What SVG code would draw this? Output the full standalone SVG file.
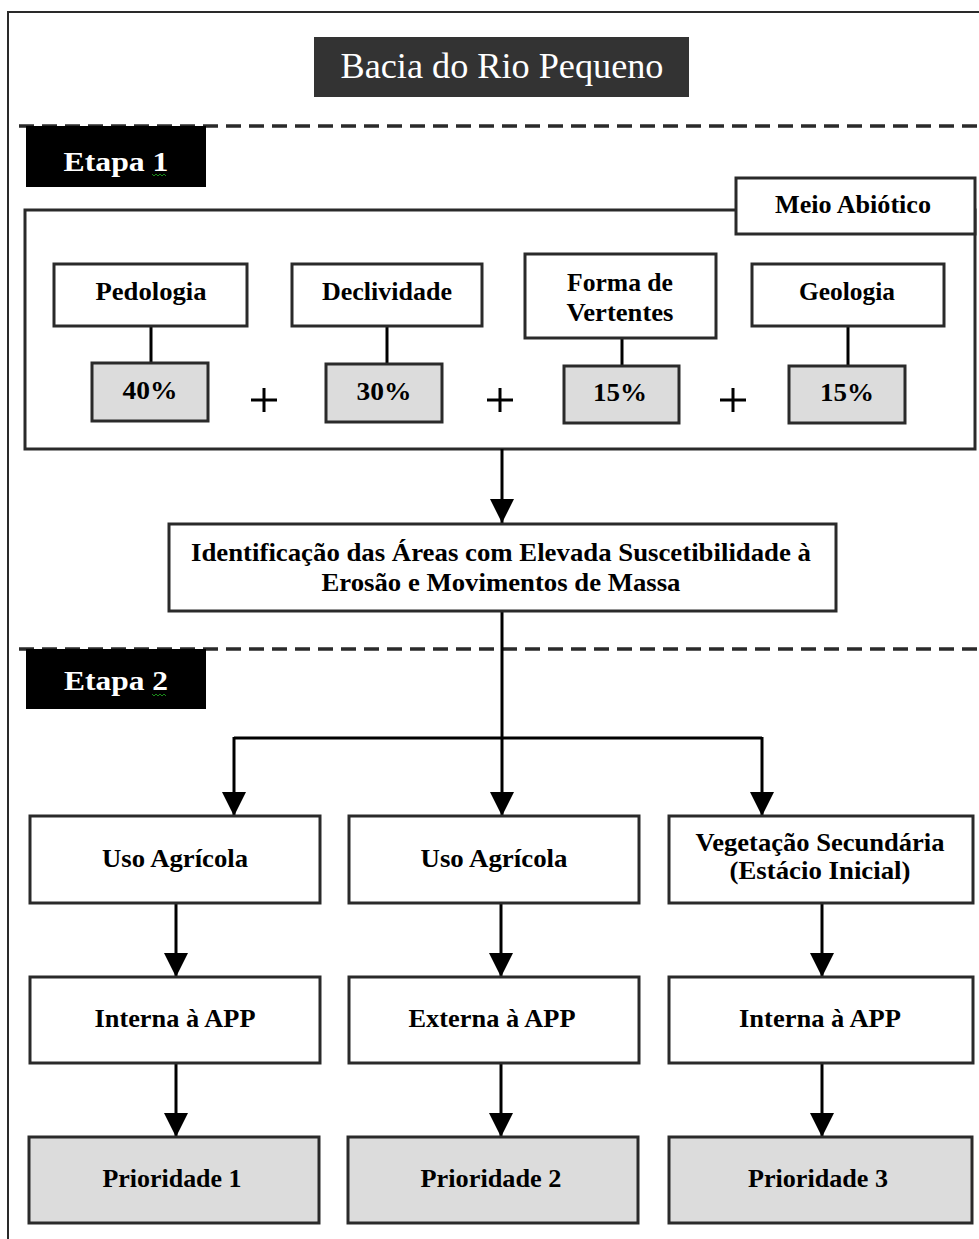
<svg xmlns="http://www.w3.org/2000/svg" width="979" height="1239" viewBox="0 0 979 1239">
<style>
.bx{fill:#fff;stroke:#2a2a2a;stroke-width:3}
.gr{fill:#dcdcdc;stroke:#2a2a2a;stroke-width:3}
.t{font-family:"Liberation Serif","Times New Roman",serif;font-weight:bold;font-size:25px;fill:#000;text-anchor:middle}
.w{font-family:"Liberation Serif","Times New Roman",serif;fill:#fff;text-anchor:middle}
.ln{stroke:#000;stroke-width:3;fill:none}
.ds{stroke:#2a2a2a;stroke-width:3.5;stroke-dasharray:15 8;fill:none}
.sq{stroke:#1a8a1a;stroke-width:1;fill:none}
</style>
<defs>
<marker id="ah" viewBox="0 0 24 24" refX="24" refY="12" markerWidth="24" markerHeight="24" markerUnits="userSpaceOnUse" orient="auto">
<path d="M0,0 L24,12 L0,24 Z" fill="#000"/>
</marker>
</defs>
<rect width="979" height="1239" fill="#fff"/>
<g id="frame">
<path d="M8,1239 V12 H979" fill="none" stroke="#2a2a2a" stroke-width="2"/>
<line class="ds" x1="19" y1="126" x2="979" y2="126"/>
<line class="ds" x1="19" y1="649" x2="979" y2="649"/>
</g>
<g id="title">
<rect x="314" y="37" width="375" height="60" fill="#333"/>
<text class="w" x="502" y="78" font-size="36" textLength="323" lengthAdjust="spacingAndGlyphs">Bacia do Rio Pequeno</text>
</g>
<g id="etapa1">
<rect x="26" y="126" width="180" height="61" fill="#000"/>
<text class="w" x="116" y="171" font-size="28" font-weight="bold" textLength="105" lengthAdjust="spacingAndGlyphs">Etapa 1</text>
<path class="sq" d="M152,174 l2,2 l2,-2 l2,2 l2,-2 l2,2 l2,-2 l2,2"/>
</g>
<g id="meio-abiotico-area">
<rect class="bx" x="25" y="210" width="950" height="239"/>
</g>
<g id="meio-abiotico">
<rect class="bx" x="736" y="178" width="239" height="56"/>
<text class="t" x="853" y="213" textLength="156" lengthAdjust="spacingAndGlyphs">Meio Abiótico</text>
</g>
<g id="connectors">
<line class="ln" x1="151" y1="326" x2="151" y2="363"/>
<line class="ln" x1="387" y1="326" x2="387" y2="364"/>
<line class="ln" x1="622" y1="338" x2="622" y2="366"/>
<line class="ln" x1="848" y1="326" x2="848" y2="366"/>
<line class="ln" x1="502" y1="449" x2="502" y2="523" marker-end="url(#ah)"/>
<line class="ln" x1="502" y1="611" x2="502" y2="738"/>
<line class="ln" x1="234" y1="738" x2="762" y2="738"/>
<line class="ln" x1="234" y1="737" x2="234" y2="816" marker-end="url(#ah)"/>
<line class="ln" x1="502" y1="738" x2="502" y2="816" marker-end="url(#ah)"/>
<line class="ln" x1="762" y1="737" x2="762" y2="816" marker-end="url(#ah)"/>
<line class="ln" x1="176" y1="903" x2="176" y2="977" marker-end="url(#ah)"/>
<line class="ln" x1="501" y1="903" x2="501" y2="977" marker-end="url(#ah)"/>
<line class="ln" x1="822" y1="903" x2="822" y2="977" marker-end="url(#ah)"/>
<line class="ln" x1="176" y1="1063" x2="176" y2="1137" marker-end="url(#ah)"/>
<line class="ln" x1="501" y1="1063" x2="501" y2="1137" marker-end="url(#ah)"/>
<line class="ln" x1="822" y1="1063" x2="822" y2="1137" marker-end="url(#ah)"/>
</g>
<g id="plus-signs" stroke="#000" stroke-width="3">
<path d="M251,400 h26 M264,388 v24"/>
<path d="M487,400 h26 M500,388 v24"/>
<path d="M720,400 h26 M733,388 v24"/>
</g>
<g id="pedologia">
<rect class="bx" x="54" y="264" width="193" height="62"/>
<text class="t" x="151" y="300" textLength="111" lengthAdjust="spacingAndGlyphs">Pedologia</text>
</g>
<g id="declividade">
<rect class="bx" x="292" y="264" width="190" height="62"/>
<text class="t" x="387" y="300" textLength="130" lengthAdjust="spacingAndGlyphs">Declividade</text>
</g>
<g id="forma-vertentes">
<rect class="bx" x="525" y="254" width="191" height="84"/>
<text class="t" x="620" y="291" textLength="106" lengthAdjust="spacingAndGlyphs">Forma de</text>
<text class="t" x="620" y="321" textLength="107" lengthAdjust="spacingAndGlyphs">Vertentes</text>
</g>
<g id="geologia">
<rect class="bx" x="752" y="264" width="192" height="62"/>
<text class="t" x="847" y="300" textLength="96" lengthAdjust="spacingAndGlyphs">Geologia</text>
</g>
<g id="p40">
<rect class="gr" x="92" y="363" width="116" height="58"/>
<text class="t" x="150" y="399" textLength="55" lengthAdjust="spacingAndGlyphs">40%</text>
</g>
<g id="p30">
<rect class="gr" x="326" y="364" width="116" height="58"/>
<text class="t" x="384" y="400" textLength="55" lengthAdjust="spacingAndGlyphs">30%</text>
</g>
<g id="p15a">
<rect class="gr" x="564" y="366" width="115" height="57"/>
<text class="t" x="620" y="401" textLength="54" lengthAdjust="spacingAndGlyphs">15%</text>
</g>
<g id="p15b">
<rect class="gr" x="789" y="366" width="116" height="57"/>
<text class="t" x="847" y="401" textLength="54" lengthAdjust="spacingAndGlyphs">15%</text>
</g>
<g id="identificacao">
<rect class="bx" x="169" y="524" width="667" height="87"/>
<text class="t" x="501" y="561" textLength="620" lengthAdjust="spacingAndGlyphs">Identificação das Áreas com Elevada Suscetibilidade à</text>
<text class="t" x="501" y="591" textLength="359" lengthAdjust="spacingAndGlyphs">Erosão e Movimentos de Massa</text>
</g>
<g id="etapa2">
<rect x="26" y="649" width="180" height="60" fill="#000"/>
<text class="w" x="116" y="690" font-size="28" font-weight="bold" textLength="104" lengthAdjust="spacingAndGlyphs">Etapa 2</text>
<path class="sq" d="M152,694 l2,2 l2,-2 l2,2 l2,-2 l2,2 l2,-2 l2,2"/>
</g>
<g id="uso-agricola-1">
<rect class="bx" x="30" y="816" width="290" height="87"/>
<text class="t" x="175" y="867" textLength="146" lengthAdjust="spacingAndGlyphs">Uso Agrícola</text>
</g>
<g id="uso-agricola-2">
<rect class="bx" x="349" y="816" width="290" height="87"/>
<text class="t" x="494" y="867" textLength="147" lengthAdjust="spacingAndGlyphs">Uso Agrícola</text>
</g>
<g id="vegetacao">
<rect class="bx" x="669" y="816" width="304" height="87"/>
<text class="t" x="820" y="851" textLength="249" lengthAdjust="spacingAndGlyphs">Vegetação Secundária</text>
<text class="t" x="820" y="879" textLength="181" lengthAdjust="spacingAndGlyphs">(Estácio Inicial)</text>
</g>
<g id="interna-1">
<rect class="bx" x="30" y="977" width="290" height="86"/>
<text class="t" x="175" y="1027" textLength="161" lengthAdjust="spacingAndGlyphs">Interna à APP</text>
</g>
<g id="externa">
<rect class="bx" x="349" y="977" width="290" height="86"/>
<text class="t" x="492" y="1027" textLength="167" lengthAdjust="spacingAndGlyphs">Externa à APP</text>
</g>
<g id="interna-2">
<rect class="bx" x="669" y="977" width="304" height="86"/>
<text class="t" x="820" y="1027" textLength="162" lengthAdjust="spacingAndGlyphs">Interna à APP</text>
</g>
<g id="prioridade-1">
<rect class="gr" x="29" y="1137" width="290" height="86"/>
<text class="t" x="172" y="1187" textLength="139" lengthAdjust="spacingAndGlyphs">Prioridade 1</text>
</g>
<g id="prioridade-2">
<rect class="gr" x="348" y="1137" width="290" height="86"/>
<text class="t" x="491" y="1187" textLength="141" lengthAdjust="spacingAndGlyphs">Prioridade 2</text>
</g>
<g id="prioridade-3">
<rect class="gr" x="669" y="1137" width="303" height="86"/>
<text class="t" x="818" y="1187" textLength="140" lengthAdjust="spacingAndGlyphs">Prioridade 3</text>
</g>
</svg>
